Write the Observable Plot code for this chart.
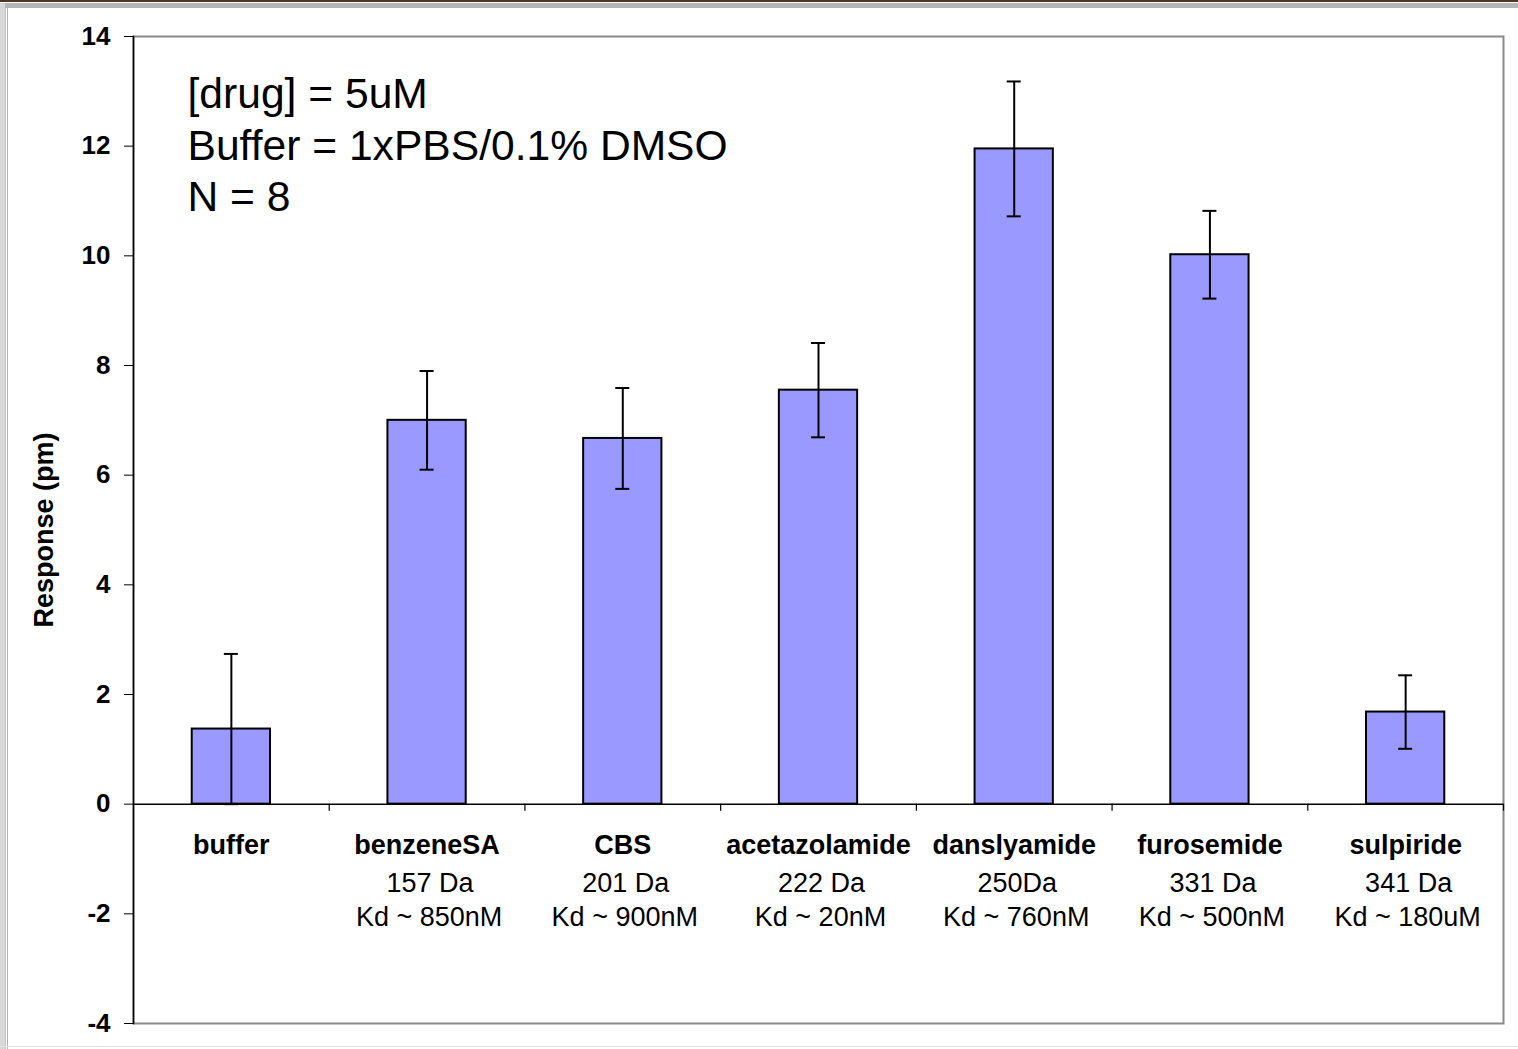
<!DOCTYPE html>
<html>
<head>
<meta charset="utf-8">
<script src="https://cdn.jsdelivr.net/npm/d3@7"></script>
<script src="https://cdn.jsdelivr.net/npm/@observablehq/plot@0.6"></script>
<style>
  html, body { margin: 0; padding: 0; background: #fff; }
  #page { position: relative; width: 1518px; height: 1049px; overflow: hidden; background: #fff; }
  #chart { position: absolute; left: 0; top: 0; }
  .edge { position: absolute; pointer-events: none; }
</style>
</head>
<body>
<div id="page">
  <div id="chart"></div>
  <!-- window edges around the slide -->
  <div class="edge" style="left:0;top:0;width:1518px;height:2px;background:#4e3526;"></div>
  <div class="edge" style="left:0;top:3px;width:1518px;height:5px;background:#b6b6b6;"></div>
  <div class="edge" style="left:0;top:3px;width:5px;height:1046px;background:#d8d8d8;"></div>
  <div class="edge" style="left:5px;top:8px;width:1px;height:1041px;background:#c4c4c4;"></div>
  <div class="edge" style="left:7px;top:8px;width:1px;height:1041px;background:#b0b0b0;"></div>
  <div class="edge" style="left:0;top:1046px;width:1518px;height:1px;background:#e4e4e4;"></div>
</div>
<script>
// Compounds tested, with molecular weight and affinity notes
const categories = ["buffer", "benzeneSA", "CBS", "acetazolamide", "danslyamide", "furosemide", "sulpiride"];
const masses = ["", "157 Da", "201 Da", "222 Da", "250Da", "331 Da", "341 Da"];
const affinities = ["", "Kd ~ 850nM", "Kd ~ 900nM", "Kd ~ 20nM", "Kd ~ 760nM", "Kd ~ 500nM", "Kd ~ 180uM"];
// Mean response (pm) and error (±)
const responses = [1.37, 7.0, 6.67, 7.55, 11.95, 10.02, 1.68];
const errors = [1.37, 0.9, 0.92, 0.86, 1.23, 0.8, 0.67];
const yTicks = [-4, -2, 0, 2, 4, 6, 8, 10, 12, 14];
const notes = "[drug] = 5uM\nBuffer = 1xPBS/0.1% DMSO\nN = 8";

const data = categories.map((name, i) => ({
  name, mass: masses[i], kd: affinities[i], value: responses[i], err: errors[i]
}));

const W = 1518, H = 1049;
const ML = 133, MR = 15, MT = 36, MB = 26;
const step = (W - ML - MR) / categories.length;
const capInset = step * 0.2 - 7;
const FONT = "'Liberation Sans', Arial, Helvetica, sans-serif";

const chart = Plot.plot({
  width: W,
  height: H,
  marginLeft: ML,
  marginRight: MR,
  marginTop: MT,
  marginBottom: MB,
  style: { fontFamily: FONT, background: "transparent", color: "#000" },
  x: { type: "band", domain: categories, paddingInner: 0.6, paddingOuter: 0.3, round: false, axis: null },
  y: { domain: [-4, 14], ticks: yTicks, axis: null },
  marks: [
    Plot.frame({ stroke: "#8a8a8a", strokeWidth: 2 }),
    Plot.axisY({ ticks: yTicks, tickFormat: d => String(d), tickSize: 9, tickPadding: 14, fontSize: 26, fontWeight: "bold", label: null, stroke: "#000" }),
    Plot.barY(data, { x: "name", y: "value", fill: "#9999ff", stroke: "#000", strokeWidth: 2 }),
    Plot.ruleY([0], { stroke: "#000", strokeWidth: 1.5 }),
    Plot.frame({ anchor: "left", stroke: "#000", strokeWidth: 1.5 }),
    // category boundary ticks along the zero line
    Plot.ruleX(data, { x: "name", y1: 0, y2: 0, insetBottom: -7, dx: step / 2, stroke: "#000", strokeWidth: 1.2 }),
    // error bars
    Plot.ruleX(data, { x: "name", y1: d => d.value - d.err, y2: d => d.value + d.err, stroke: "#000", strokeWidth: 2 }),
    Plot.tickY(data, { x: "name", y: d => d.value + d.err, stroke: "#000", strokeWidth: 2, insetLeft: capInset, insetRight: capInset }),
    Plot.tickY(data, { x: "name", y: d => d.value - d.err, stroke: "#000", strokeWidth: 2, insetLeft: capInset, insetRight: capInset }),
    // category labels below the zero line
    Plot.text(data, { x: "name", y: () => 0, text: "name", dy: 41, fontSize: 27, fontWeight: "bold", fill: "#000" }),
    Plot.text(data, { x: "name", y: () => 0, text: "mass", dy: 79, dx: 3, fontSize: 27, fill: "#000" }),
    Plot.text(data, { x: "name", y: () => 0, text: "kd", dy: 113, dx: 2, fontSize: 27, fill: "#000" }),
    // y axis title
    Plot.text(["Response (pm)"], { frameAnchor: "left", textAnchor: "middle", rotate: -90, dx: -89, fontSize: 27, fontWeight: "bold", fill: "#000" }),
    // experimental conditions
    Plot.text([notes], { frameAnchor: "top-left", textAnchor: "start", lineAnchor: "top", dx: 54, dy: 35, fontSize: 42.6, lineHeight: 1.21, fill: "#000" })
  ]
});

document.getElementById("chart").appendChild(chart);
</script>
</body>
</html>
